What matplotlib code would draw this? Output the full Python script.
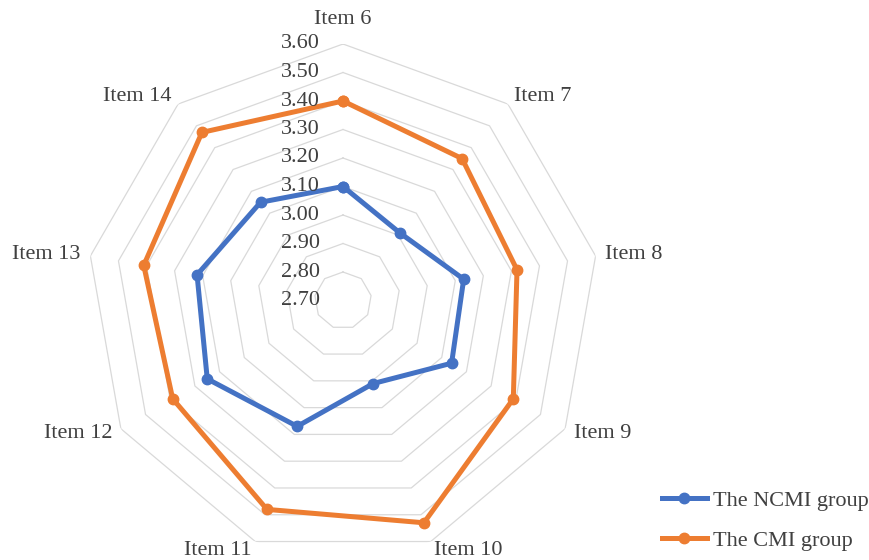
import numpy as np
import matplotlib
matplotlib.use("Agg")
import matplotlib.pyplot as plt
from matplotlib.transforms import offset_copy

plt.rcParams["font.family"] = ["Liberation Serif", "DejaVu Serif"]
plt.rcParams["font.size"] = 16

# Items and mean scores for both groups
items = ["Item 6", "Item 7", "Item 8", "Item 9", "Item 10",
         "Item 11", "Item 12", "Item 13", "Item 14"]
ncmi = [3.10, 3.01, 3.13, 3.14, 3.01, 3.17, 3.25, 3.22, 3.15]
cmi = [3.40, 3.35, 3.32, 3.39, 3.53, 3.48, 3.39, 3.41, 3.47]
scale_ticks = [2.70, 2.80, 2.90, 3.00, 3.10, 3.20, 3.30, 3.40, 3.50, 3.60]

text_color = "#404040"
grid_color = "#D9D9D9"
blue = "#4472C4"
orange = "#ED7D31"

fig = plt.figure(figsize=(8.69, 5.6), dpi=100)
ax = fig.add_axes([86.5 / 869, 3 / 560, 513 / 869, 513 / 560], projection="polar")
ax.set_theta_zero_location("N")
ax.set_theta_direction(-1)
ax.set_ylim(scale_ticks[0], scale_ticks[-1])
ax.grid(False)
ax.set_xticks([])
ax.set_yticks([])
ax.spines["polar"].set_visible(False)
ax.patch.set_alpha(0)

n = len(items)
theta = np.linspace(0, 2 * np.pi, n, endpoint=False)
theta_closed = np.append(theta, theta[0])

# nonagon grid rings
for level in scale_ticks[1:]:
    ax.plot(theta_closed, [level] * (n + 1), color=grid_color, lw=0.9, zorder=1)

# series
ax.plot(theta_closed, ncmi + ncmi[:1], color=blue, lw=3.6, marker="o",
        markersize=7.5, label="The NCMI group", zorder=3)
ax.plot(theta_closed, cmi + cmi[:1], color=orange, lw=3.6, marker="o",
        markersize=7.5, label="The CMI group", zorder=3)

# scale labels along the top axis
tick_tf = offset_copy(ax.transData, fig=fig, x=-23, y=0, units="dots")
for v in scale_ticks:
    ax.text(0, v, f"{v:.2f}", transform=tick_tf, ha="right", va="center",
            color=text_color, clip_on=False)

# category labels
for t, name in zip(theta, items):
    s, c = np.sin(t), np.cos(t)
    pad = 25 if c > 0.95 else 10
    if s > 0.1:
        ha = "left"
    elif s < -0.1:
        ha = "right"
    else:
        ha = "center"
    ax.annotate(name, xy=(t, scale_ticks[-1]), xytext=(pad * s, pad * c),
                textcoords="offset pixels", ha=ha, va="center",
                color=text_color, annotation_clip=False)

fig.legend(loc="upper left", bbox_to_anchor=(651 / 869, 1 - 479 / 560),
           frameon=False, borderpad=0, handlelength=2.0, handletextpad=0.3,
           labelspacing=0.9, numpoints=1, labelcolor=text_color)

fig.savefig("out.png", dpi=100)
